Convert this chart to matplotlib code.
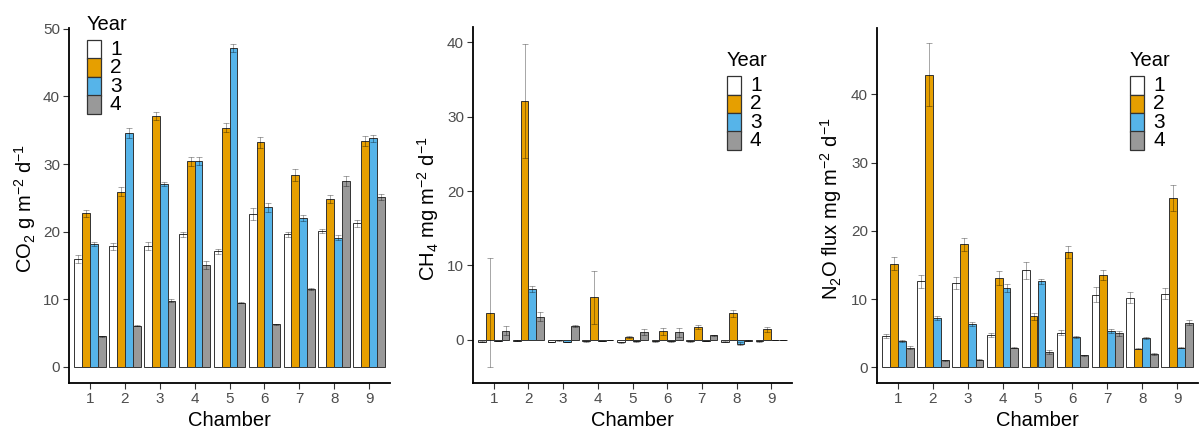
import numpy as np
import matplotlib.pyplot as plt
from matplotlib.patches import Rectangle

plt.rcParams['font.family'] = ['Liberation Sans', 'DejaVu Sans']
plt.rcParams['mathtext.fontset'] = 'custom'
plt.rcParams['mathtext.rm'] = 'Liberation Sans'
plt.rcParams['mathtext.it'] = 'Liberation Sans:italic'

chambers = [1, 2, 3, 4, 5, 6, 7, 8, 9]
years = ['1', '2', '3', '4']
colors = ['#FFFFFF', '#E69F00', '#56B4E9', '#999999']

# CO2 (g m-2 d-1), one list per year, chambers 1..9
co2_y1 = [16.0, 17.8, 17.85, 19.6, 17.1, 22.6, 19.6, 20.1, 21.25]
co2_y2 = [22.7, 25.9, 37.1, 30.4, 35.4, 33.2, 28.4, 24.8, 33.4]
co2_y3 = [18.1, 34.6, 27.0, 30.4, 47.2, 23.6, 22.0, 19.1, 33.8]
co2_y4 = [4.5, 6.1, 9.8, 15.0, 9.5, 6.3, 11.5, 27.5, 25.1]
co2_e1 = [0.6, 0.5, 0.6, 0.4, 0.4, 0.9, 0.4, 0.3, 0.5]
co2_e2 = [0.5, 0.7, 0.6, 0.7, 0.7, 0.8, 0.9, 0.6, 0.7]
co2_e3 = [0.3, 0.8, 0.3, 0.6, 0.6, 0.7, 0.5, 0.4, 0.5]
co2_e4 = [0.1, 0.1, 0.2, 0.6, 0.1, 0.1, 0.1, 0.8, 0.4]

# CH4 (mg m-2 d-1)
ch4_y1 = [-0.25, -0.1, -0.3, -0.2, -0.35, -0.2, -0.2, -0.25, -0.2]
ch4_y2 = [3.67, 32.1, -0.08, 5.7, 0.4, 1.15, 1.75, 3.55, 1.4]
ch4_y3 = [-0.15, 6.8, -0.3, -0.15, -0.2, -0.2, -0.15, -0.55, -0.05]
ch4_y4 = [1.2, 3.1, 1.85, -0.02, 1.05, 1.0, 0.6, -0.1, -0.02]
ch4_e1 = [0.05, 0.05, 0.05, 0.05, 0.05, 0.05, 0.05, 0.05, 0.05]
ch4_e2 = [7.3, 7.7, 0.05, 3.6, 0.1, 0.5, 0.3, 0.45, 0.35]
ch4_e3 = [0.05, 0.4, 0.05, 0.05, 0.05, 0.05, 0.05, 0.2, 0.02]
ch4_e4 = [0.6, 0.6, 0.15, 0.02, 0.35, 0.65, 0.1, 0.05, 0.02]

# N2O flux (mg m-2 d-1)
n2o_y1 = [4.6, 12.6, 12.4, 4.75, 14.2, 5.1, 10.6, 10.2, 10.8]
n2o_y2 = [15.2, 42.9, 18.0, 13.1, 7.5, 16.95, 13.5, 2.75, 24.8]
n2o_y3 = [3.8, 7.25, 6.35, 11.65, 12.6, 4.5, 5.35, 4.25, 2.9]
n2o_y4 = [2.9, 1.0, 1.1, 2.9, 2.2, 1.75, 5.0, 1.95, 6.55]
n2o_e1 = [0.3, 1.0, 0.9, 0.35, 1.3, 0.4, 1.1, 0.8, 0.8]
n2o_e2 = [1.0, 4.6, 1.0, 1.0, 0.5, 0.9, 0.7, 0.1, 1.9]
n2o_e3 = [0.15, 0.25, 0.3, 0.6, 0.4, 0.15, 0.3, 0.15, 0.1]
n2o_e4 = [0.25, 0.1, 0.1, 0.1, 0.3, 0.1, 0.35, 0.1, 0.4]

panels = [
    dict(vals=[co2_y1, co2_y2, co2_y3, co2_y4], errs=[co2_e1, co2_e2, co2_e3, co2_e4],
         ylabel=r'CO$_2$ g m$^{-2}$ d$^{-1}$', ylim=(-2.4, 50.2), yticks=[0, 10, 20, 30, 40, 50],
         box=[69, 390], leg=(87, 40), ylab_x=38),
    dict(vals=[ch4_y1, ch4_y2, ch4_y3, ch4_y4], errs=[ch4_e1, ch4_e2, ch4_e3, ch4_e4],
         ylabel=r'CH$_4$ mg m$^{-2}$ d$^{-1}$', ylim=(-5.8, 42.0), yticks=[0, 10, 20, 30, 40],
         box=[473, 792], leg=(727, 76), ylab_x=441),
    dict(vals=[n2o_y1, n2o_y2, n2o_y3, n2o_y4], errs=[n2o_e1, n2o_e2, n2o_e3, n2o_e4],
         ylabel=r'N$_2$O flux mg m$^{-2}$ d$^{-1}$', ylim=(-2.3, 49.8), yticks=[0, 10, 20, 30, 40],
         box=[877, 1198], leg=(1130, 76), ylab_x=844),
]

W, H = 1201, 429
fig = plt.figure(figsize=(W / 100, H / 100), dpi=100)

x = np.arange(1, len(chambers) + 1)
bw = 0.9 / 4
for p in panels:
    l, r = p['box']
    top_px = 27.5
    bot_px = 383
    ax = fig.add_axes([l / W, 1 - bot_px / H, (r - l) / W, (bot_px - top_px) / H])
    for k in range(4):
        xs = x - 0.45 + bw * (k + 0.5)
        ax.bar(xs, p['vals'][k], width=bw, color=colors[k], edgecolor='#333333', linewidth=0.7, zorder=2)
        ax.errorbar(xs, p['vals'][k], yerr=p['errs'][k], fmt='none', ecolor=(0, 0, 0, 0.35),
                    elinewidth=0.7, capsize=2.2, capthick=0.7, zorder=3)
    ax.set_xlim(0.4, 9.6)
    ax.set_ylim(*p['ylim'])
    ax.set_xticks(x)
    ax.set_xticklabels([str(c) for c in chambers])
    ax.set_yticks(p['yticks'])
    for s in ['top', 'right']:
        ax.spines[s].set_visible(False)
    for s in ['left', 'bottom']:
        ax.spines[s].set_linewidth(1.3)
        ax.spines[s].set_color('black')
    ax.tick_params(axis='both', colors='#333333', labelcolor='#4D4D4D', labelsize=11,
                   length=4, width=0.8, pad=2.5)
    ax.set_xlabel('Chamber', fontsize=14.5, labelpad=3.5)
    ax.set_ylabel(p['ylabel'], fontsize=14.5)
    ax.yaxis.set_label_coords((p['ylab_x'] - l) / (r - l), 0.49)

    # legend drawn as key boxes in pixel layout
    lx, ly = p['leg']
    kw, kh = 14, 18.5
    fig.text(lx / W, 1 - (ly - 6) / H, 'Year', fontsize=14.5, ha='left', va='bottom')
    for k in range(4):
        y0 = ly + kh * k
        fig.add_artist(Rectangle((lx / W, 1 - (y0 + kh) / H), kw / W, kh / H,
                                 facecolor=colors[k], edgecolor='#333333', linewidth=0.9,
                                 transform=fig.transFigure))
        fig.text((lx + kw + 9) / W, 1 - (y0 + kh / 2) / H, years[k], fontsize=15,
                 ha='left', va='center')

fig.savefig('out.png', dpi=100)
